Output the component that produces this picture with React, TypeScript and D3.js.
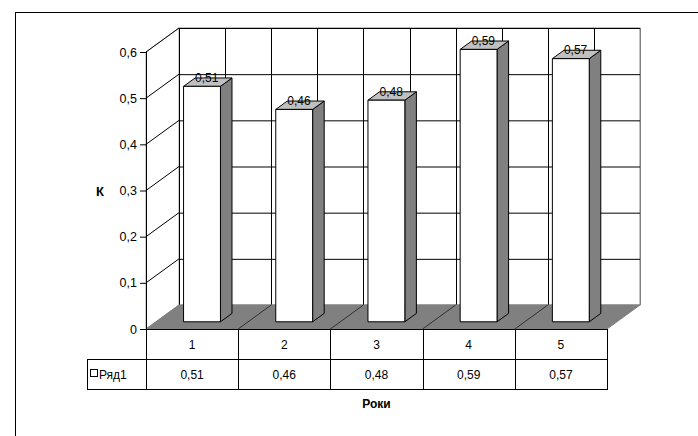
import React from "react";
import * as d3 from "d3";

const categories = ["1", "2", "3", "4", "5"];
const values = [0.51, 0.46, 0.48, 0.59, 0.57];
const yTicks = [0, 0.1, 0.2, 0.3, 0.4, 0.5, 0.6];
const valueLabels = ["0,51", "0,46", "0,48", "0,59", "0,57"];
const seriesName = "Ряд1";
const yTitle = "К";
const xTitle = "Роки";

const W = 698;
const H = 436;
const DX = 33;
const DY = -24;
const F1 = 0.3;
const F2 = 0.65;

export default function App() {
  const y = d3.scaleLinear().domain([0, 0.6]).range([329, 52]);
  const x = d3.scaleBand<string>().domain(categories).range([146, 607]).padding(0);
  const bw = x.bandwidth();
  const barW = bw * 0.4;
  const x0 = 146, x1 = 607, yb = y(0), yt = y(0.6);
  const font = "'Liberation Sans', Arial, sans-serif";
  const fmt = (v: number) => (v === 0 ? "0" : d3.format(".1f")(v).replace(".", ","));
  const pts = (arr: number[][]) => arr.map((p) => p.join(",")).join(" ");

  return (
    <svg width={W} height={H} style={{ position: "absolute", left: 0, top: 0, background: "#fff" }} fontFamily={font}>
      <rect x={0} y={0} width={W} height={H} fill="#fff" />
      <rect x={15.5} y={12.5} width={720} height={500} fill="none" stroke="#000" strokeWidth={1} />
      {/* back wall */}
      <rect x={x0 + DX} y={yt + DY} width={x1 - x0} height={yb - yt} fill="#fff" stroke="#808080" />
      {/* left side wall */}
      <polygon points={pts([[x0, yt], [x0 + DX, yt + DY], [x0 + DX, yb + DY], [x0, yb]])} fill="#fff" stroke="#a0a0a0" />
      {/* gridlines */}
      {yTicks.slice(1).map((t) => (
        <g key={"g" + t}>
          <line x1={x0 + DX} x2={x1 + DX} y1={y(t) + DY + 0.5} y2={y(t) + DY + 0.5} stroke="#000" />
          <line x1={x0} y1={y(t)} x2={x0 + DX} y2={y(t) + DY} stroke="#000" />
        </g>
      ))}
      {d3.range(0, 11).map((i) => {
        const xx = Math.round(x0 + DX + (i * (x1 - x0)) / 10) + 0.5;
        return <line key={"v" + i} x1={xx} x2={xx} y1={yt + DY} y2={yb + DY} stroke={i === 10 ? "#808080" : "#000"} />;
      })}
      {/* floor */}
      <polygon points={pts([[x0, yb], [x0 + DX, yb + DY], [x1 + DX, yb + DY], [x1, yb]])} fill="#808080" stroke="#808080" />
      {categories.map((c, i) => {
        const xb = (x(c) as number) + bw;
        return i < categories.length - 1 ? (
          <line key={"f" + c} x1={xb} y1={yb} x2={xb + DX} y2={yb + DY} stroke="#303030" />
        ) : null;
      })}
      {/* y axis */}
      <line x1={x0 + 0.5} x2={x0 + 0.5} y1={yt} y2={yb} stroke="#000" />
      {yTicks.map((t) => (
        <g key={"t" + t}>
          <line x1={x0 - 6} x2={x0} y1={y(t) + 0.5} y2={y(t) + 0.5} stroke="#000" />
          <text x={x0 - 9} y={y(t) + 4.5} textAnchor="end" fontSize={12.5} fill="#000">
            {fmt(t)}
          </text>
        </g>
      ))}
      <text x={100} y={196} textAnchor="middle" fontSize={13} fontWeight="bold">
        {yTitle}
      </text>
      {/* bars */}
      {categories.map((c, i) => {
        const v = values[i];
        const cx = (x(c) as number) + bw / 2;
        const l = cx - barW / 2;
        const r = cx + barW / 2;
        const ax = DX * F1, ay = DY * F1;
        const bx = DX * F2, by = DY * F2;
        const top = y(v);
        const front = [[l + ax, top + ay], [r + ax, top + ay], [r + ax, yb + ay], [l + ax, yb + ay]];
        const side = [[r + ax, top + ay], [r + bx, top + by], [r + bx, yb + by], [r + ax, yb + ay]];
        const topF = [[l + ax, top + ay], [l + bx, top + by], [r + bx, top + by], [r + ax, top + ay]];
        const fm = (F1 + F2) / 2;
        return (
          <g key={"b" + c}>
            <polygon points={pts(side)} fill="#808080" stroke="#000" strokeLinejoin="round" />
            <polygon points={pts(topF)} fill="#c0c0c0" stroke="#000" strokeLinejoin="round" />
            <polygon points={pts(front)} fill="#fff" stroke="#000" strokeLinejoin="round" />
            <text x={cx + DX * fm - 1} y={top + DY * fm - 0.5} textAnchor="middle" fontSize={12} fill="#000">
              {valueLabels[i]}
            </text>
          </g>
        );
      })}
      {/* data table */}
      <g stroke="#000" fill="none">
        <line x1={x0} x2={x1} y1={yb + 0.5} y2={yb + 0.5} />
        <line x1={87} x2={x1} y1={359.5} y2={359.5} />
        <line x1={87} x2={x1} y1={389.5} y2={389.5} />
        <line x1={87.5} x2={87.5} y1={359} y2={390} />
        {categories.map((c) => (
          <line key={"tl" + c} x1={Math.round(x(c) as number) + 0.5} x2={Math.round(x(c) as number) + 0.5} y1={yb} y2={390} />
        ))}
        <line x1={x1 + 0.5} x2={x1 + 0.5} y1={yb} y2={390} />
      </g>
      {categories.map((c, i) => (
        <g key={"tc" + c}>
          <text x={(x(c) as number) + bw / 2} y={348.5} textAnchor="middle" fontSize={12}>
            {c}
          </text>
          <text x={(x(c) as number) + bw / 2} y={378.5} textAnchor="middle" fontSize={12}>
            {valueLabels[i]}
          </text>
        </g>
      ))}
      <rect x={90.5} y={369.5} width={7} height={7} fill="#fff" stroke="#000" />
      <text x={99} y={378.5} fontSize={12}>
        {seriesName}
      </text>
      <text x={(x0 + x1) / 2} y={408} textAnchor="middle" fontSize={12} fontWeight="bold">
        {xTitle}
      </text>
    </svg>
  );
}
